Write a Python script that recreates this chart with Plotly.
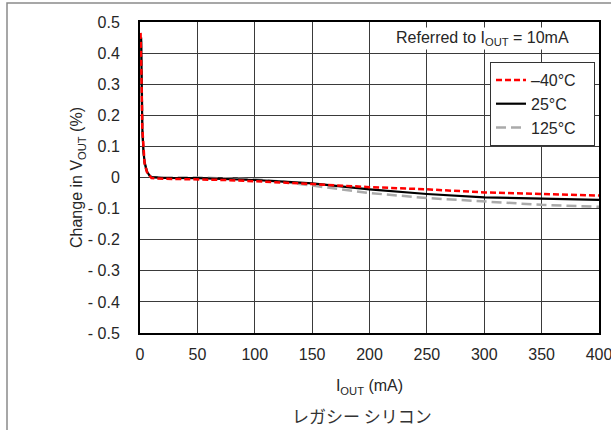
import plotly.graph_objects as go

# ---- data ----
x_m40 = [0.5, 1, 1.5, 2, 3, 4, 6, 8, 10, 20, 50, 75, 100, 125, 150, 200, 250, 300, 350, 400]
y_m40 = [0.465, 0.40, 0.28, 0.16, 0.08, 0.045, 0.018, 0.006, -0.002, -0.004, -0.006, -0.008, -0.012, -0.016, -0.021, -0.031, -0.038, -0.048, -0.054, -0.058]

x_25 = [1, 1.5, 2, 3, 4, 6, 8, 10, 20, 50, 75, 100, 125, 150, 200, 250, 300, 350, 400]
y_25 = [0.45, 0.30, 0.16, 0.085, 0.05, 0.02, 0.008, 0.001, -0.001, -0.002, -0.004, -0.008, -0.013, -0.019, -0.038, -0.053, -0.064, -0.069, -0.072]

x_125 = [1, 1.5, 2, 3, 4, 6, 8, 10, 20, 50, 75, 100, 125, 150, 200, 250, 300, 350, 400]
y_125 = [0.44, 0.29, 0.15, 0.08, 0.045, 0.018, 0.007, 0.001, 0.000, 0.000, -0.002, -0.006, -0.014, -0.026, -0.050, -0.066, -0.078, -0.088, -0.094]

x_ticks = [0, 50, 100, 150, 200, 250, 300, 350, 400]
y_ticks = [0.5, 0.4, 0.3, 0.2, 0.1, 0, -0.1, -0.2, -0.3, -0.4, -0.5]
y_tick_labels = ["0.5", "0.4", "0.3", "0.2", "0.1", "0", "- 0.1", "- 0.2", "- 0.3", "- 0.4", "- 0.5"]

FONT = "Liberation Sans, Arial, sans-serif"
TXT = "#262626"
PAD = "\u00a0\u00a0\u00a0"

fig = go.Figure()
fig.add_trace(go.Scatter(x=x_125, y=y_125, mode="lines", name="125°C" + PAD,
                         line=dict(color="#aaaaaa", width=2.5, dash="10px,5px")))
fig.add_trace(go.Scatter(x=x_25, y=y_25, mode="lines", name="25°C" + PAD,
                         line=dict(color="black", width=2.2)))
fig.add_trace(go.Scatter(x=x_m40, y=y_m40, mode="lines", name="\u201340°C" + PAD,
                         line=dict(color="#ff0000", width=2.5, dash="6px,3px")))

W, H = 611, 430
ml, mr, mt, mb = 140, 12, 22, 97
pw, ph = W - ml - mr, H - mt - mb

def px(xp):
    return (xp - ml) / pw

def py(yp):
    return (H - mb - yp) / ph

fig.update_layout(
    template="none",
    width=W, height=H,
    margin=dict(l=ml, r=mr, t=mt, b=mb, autoexpand=False),
    paper_bgcolor="white", plot_bgcolor="white",
    font=dict(family=FONT, size=16, color=TXT),
    showlegend=True,
    legend=dict(
        x=px(490), y=py(62), xanchor="left", yanchor="top",
        bgcolor="white", bordercolor="#333333", borderwidth=1,
        traceorder="reversed", font=dict(size=16, color=TXT),
        itemwidth=30, tracegroupgap=0,
    ),
    xaxis=dict(
        range=[0, 400], tickvals=x_ticks, ticktext=[str(v) for v in x_ticks],
        showgrid=True, gridcolor="#3a3a3a", gridwidth=1,
        showline=True, linecolor="black", linewidth=2, mirror=True,
        ticks="outside", ticklen=6, tickcolor="rgba(0,0,0,0)",
        zeroline=False, automargin=False, ticklabeloverflow="allow",
        title=dict(text="I<sub>OUT</sub> (mA)", font=dict(size=16, color=TXT), standoff=18),
    ),
    yaxis=dict(
        range=[-0.5, 0.5], tickvals=y_ticks, ticktext=y_tick_labels,
        showgrid=True, gridcolor="#3a3a3a", gridwidth=1,
        showline=True, linecolor="black", linewidth=2, mirror=True,
        ticks="outside", ticklen=15, tickcolor="rgba(0,0,0,0)",
        zeroline=False, automargin=False, ticklabeloverflow="allow",
        title=dict(text="Change in V<sub>OUT</sub> (%)", font=dict(size=16, color=TXT), standoff=0),
    ),
    annotations=[
        dict(text="Referred to I<sub>OUT</sub> = 10mA", x=px(482.5), y=py(38),
             xref="paper", yref="paper", showarrow=False, bgcolor="white",
             font=dict(size=16, color=TXT), xanchor="center", yanchor="middle"),
        dict(text="レガシー シリコン", x=px(362), y=py(415),
             xref="paper", yref="paper", showarrow=False,
             font=dict(family="Noto Sans CJK JP", size=17, color="#333333"),
             xanchor="center", yanchor="middle"),
    ],
    shapes=[
        dict(type="rect", xref="paper", yref="paper",
             x0=px(7), x1=px(640), y0=py(460), y1=py(3),
             line=dict(color="#8a8a8a", width=1.5), fillcolor="rgba(0,0,0,0)", layer="below"),
    ],
)

fig.write_html("out.html", config={"displayModeBar": False},
               post_script="document.body.style.margin='0';document.body.style.overflow='hidden';")
